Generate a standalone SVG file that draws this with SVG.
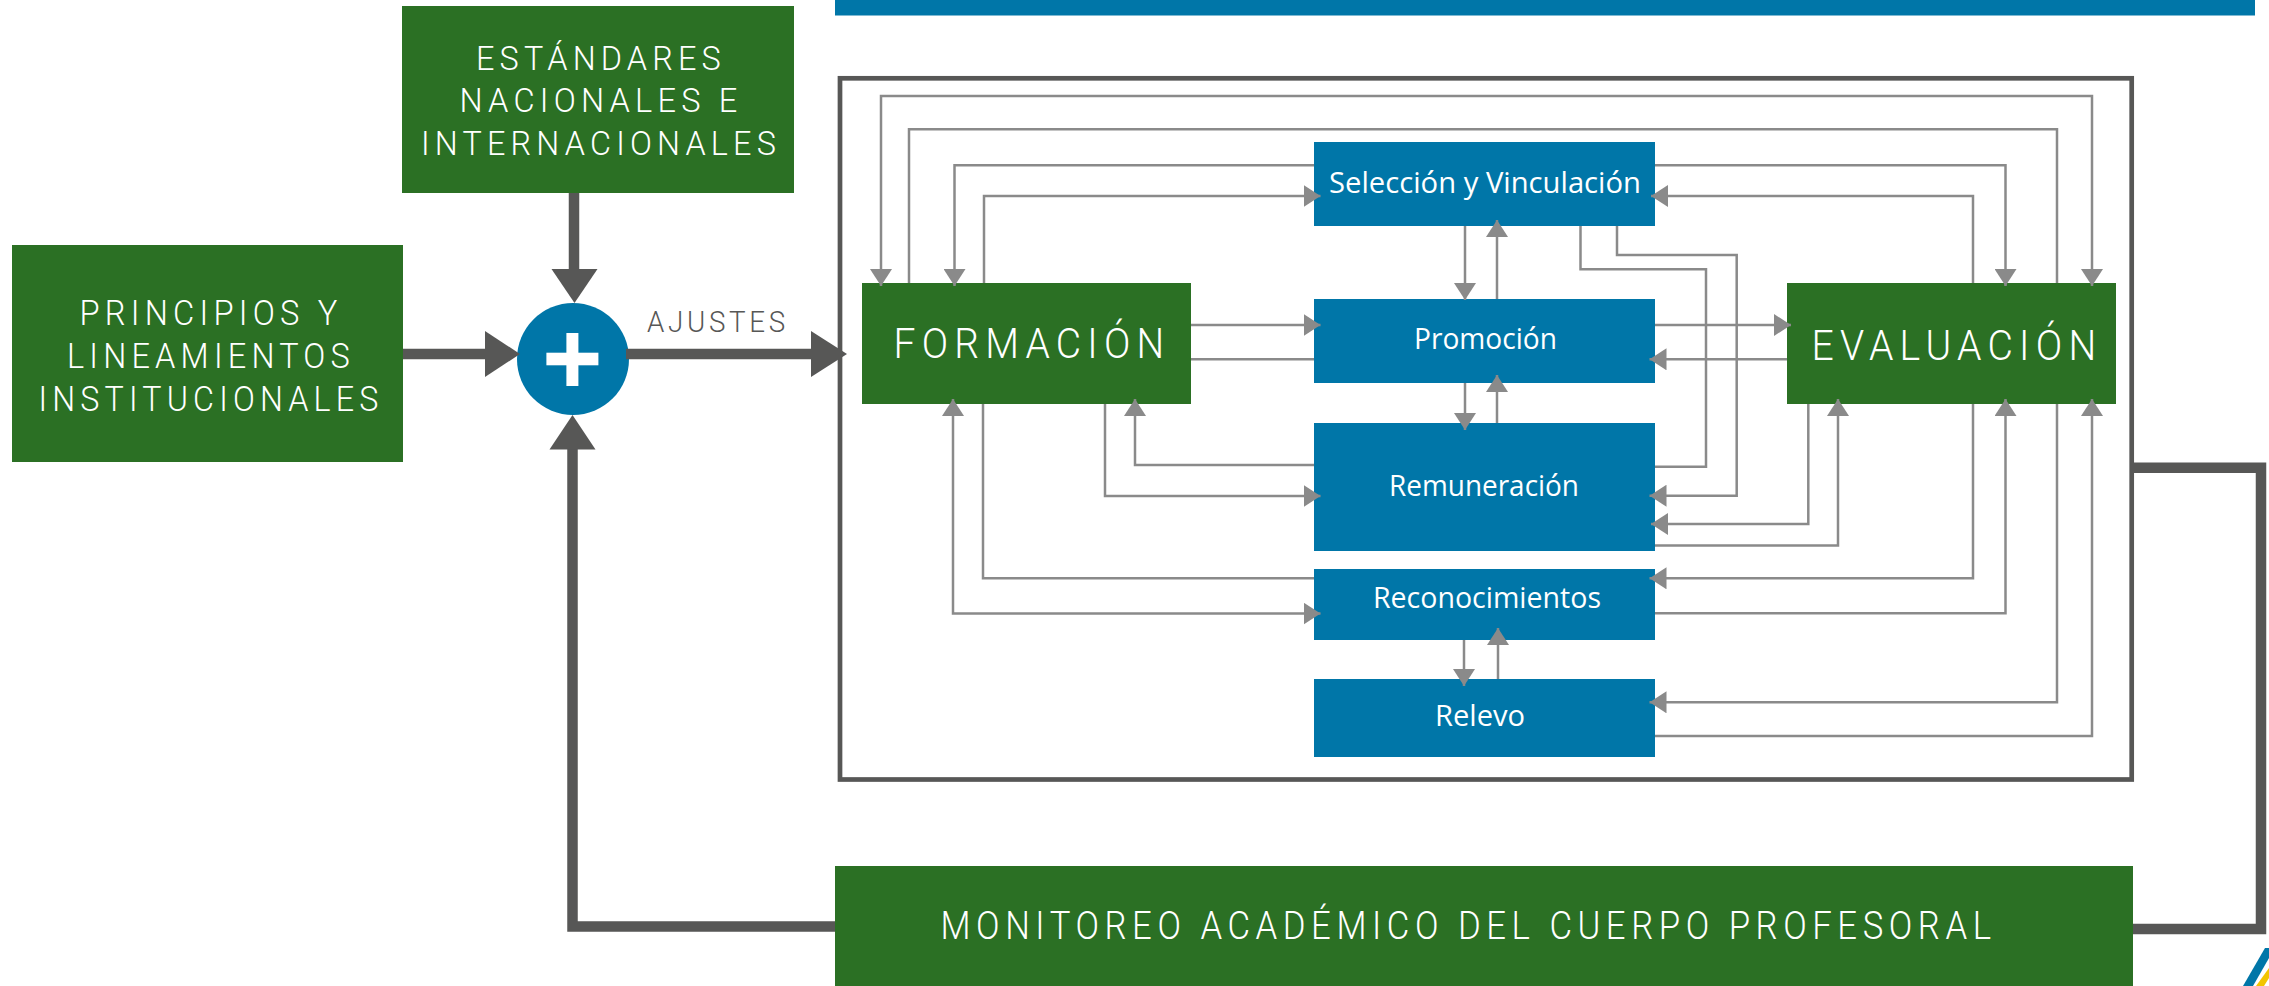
<svg xmlns="http://www.w3.org/2000/svg" width="2269" height="986" viewBox="0 0 2269 986">
<style>
.g{fill:#2b7024}
.b{fill:#0076a8}
.tg{fill:#fff;font-family:Roboto,"Liberation Sans",sans-serif;font-weight:300;text-anchor:middle;letter-spacing:0.16em}
.tb{fill:#fff;font-family:"Open Sans","Noto Sans",sans-serif;font-size:30px;text-anchor:middle}
.c{fill:none;stroke:#8a8a8a;stroke-width:2.5}
.a{marker-end:url(#ah)}
.a2{marker-start:url(#ah);marker-end:url(#ah)}
.thick{fill:none;stroke:#575756;stroke-width:10.5}
.head{fill:#575756}
</style>
<defs>
<marker id="ah" markerUnits="userSpaceOnUse" markerWidth="17" markerHeight="22" viewBox="0 0 17 22" refX="17" refY="11" orient="auto-start-reverse">
<path d="M0,0 L17,11 L0,22 Z" fill="#8a8a8a"/>
</marker>
</defs>
<rect width="2269" height="986" fill="#fff"/>
<rect x="835" y="0" width="1420" height="15.5" class="b"/>
<rect x="840" y="78.3" width="1291.7" height="701.2" fill="none" stroke="#575756" stroke-width="4.7"/>

<g id="estandares">
<rect x="402" y="6" width="392" height="187" class="g"/>
<text class="tg" font-size="34" x="601" y="70" textLength="250" lengthAdjust="spacingAndGlyphs">ESTÁNDARES</text>
<text class="tg" font-size="34" x="601" y="112" textLength="283" lengthAdjust="spacingAndGlyphs">NACIONALES E</text>
<text class="tg" font-size="34" x="601" y="155" textLength="360" lengthAdjust="spacingAndGlyphs">INTERNACIONALES</text>
</g>
<g id="principios">
<rect x="12" y="245" width="391" height="217" class="g"/>
<text class="tg" font-size="35" x="211" y="325" textLength="263" lengthAdjust="spacingAndGlyphs">PRINCIPIOS Y</text>
<text class="tg" font-size="35" x="211" y="368" textLength="288" lengthAdjust="spacingAndGlyphs">LINEAMIENTOS</text>
<text class="tg" font-size="35" x="211" y="411" textLength="345" lengthAdjust="spacingAndGlyphs">INSTITUCIONALES</text>
</g>
<g id="suma">
<circle cx="573" cy="359" r="56" class="b"/>
<rect x="546.4" y="352.7" width="52" height="12.6" fill="#fff"/>
<rect x="566.4" y="333" width="12" height="53" fill="#fff"/>
</g>
<g id="ajustes">
<text x="718" y="332" font-family="Roboto,'Liberation Sans',sans-serif" font-weight="300" font-size="30" fill="#575756" text-anchor="middle" letter-spacing="4" textLength="142" lengthAdjust="spacingAndGlyphs">AJUSTES</text>
</g>
<g id="formacion">
<rect x="862" y="283" width="329" height="121" class="g"/>
<text class="tg" font-size="43" x="1032" y="358" textLength="277" lengthAdjust="spacingAndGlyphs">FORMACIÓN</text>
</g>
<g id="evaluacion">
<rect x="1787" y="283" width="329" height="121" class="g"/>
<text class="tg" font-size="43" x="1957" y="360" textLength="291" lengthAdjust="spacingAndGlyphs">EVALUACIÓN</text>
</g>
<g id="seleccion">
<rect x="1314" y="142" width="341" height="84" class="b"/>
<text class="tb" x="1485" y="193" textLength="312" lengthAdjust="spacingAndGlyphs">Selección y Vinculación</text>
</g>
<g id="promocion">
<rect x="1314" y="299" width="341" height="84" class="b"/>
<text class="tb" x="1485.5" y="349" textLength="143" lengthAdjust="spacingAndGlyphs">Promoción</text>
</g>
<g id="remuneracion">
<rect x="1314" y="423" width="341" height="128" class="b"/>
<text class="tb" x="1484" y="496" textLength="190" lengthAdjust="spacingAndGlyphs">Remuneración</text>
</g>
<g id="reconocimientos">
<rect x="1314" y="569" width="341" height="71" class="b"/>
<text class="tb" x="1487" y="608" textLength="228" lengthAdjust="spacingAndGlyphs">Reconocimientos</text>
</g>
<g id="relevo">
<rect x="1314" y="679" width="341" height="78" class="b"/>
<text class="tb" x="1480" y="726" textLength="90" lengthAdjust="spacingAndGlyphs">Relevo</text>
</g>
<g id="monitoreo">
<rect x="835" y="866" width="1298" height="120" class="g"/>
<text class="tg" font-size="38" x="1468.5" y="939" textLength="1056" lengthAdjust="spacingAndGlyphs">MONITOREO ACADÉMICO DEL CUERPO PROFESORAL</text>
</g>

<g id="connectors">
<path class="thick" d="M574,193 V270"/>
<polygon class="head" points="551.5,269 597.5,269 574.5,303"/>
<path class="thick" d="M403,354 H486"/>
<polygon class="head" points="485,331 485,377 520,354"/>
<path class="thick" d="M626,354 H812"/>
<polygon class="head" points="811,331 811,377 847,354"/>
<path class="thick" d="M835,926.5 H572.5 V449"/>
<polygon class="head" points="549.5,449.5 595.5,449.5 572.5,415"/>
<path class="thick" d="M2133,467.7 H2261 V929 H2133" stroke-linejoin="miter"/>

<path class="c a2" d="M881,286 V96 H2092 V286"/>
<path class="c" d="M909,283 V129.3 H2057 V283"/>
<path class="c a" d="M1314,165.3 H954.5 V286"/>
<path class="c a" d="M1655,165.3 H2005.5 V286"/>
<path class="c a" d="M984,283 V196 H1320.5"/>
<path class="c a" d="M1973,283 V196 H1651"/>
<path class="c a" d="M1191,325 H1320.5"/>
<path class="c a" d="M1655,325 H1791"/>
<path class="c" d="M1314,359.3 H1191"/>
<path class="c a" d="M1787,359.3 H1649.5"/>
<path class="c a" d="M1314,465 H1135 V399"/>
<path class="c a" d="M1105,404 V496 H1320.5"/>
<path class="c" d="M983,404 V578.3 H1314"/>
<path class="c a2" d="M953,399 V613.5 H1320.5"/>
<path class="c" d="M1655,466.7 H1706 V269.3 H1580.5 V226"/>
<path class="c a" d="M1617,226 V255 H1736.7 V495.7 H1649.5"/>
<path class="c a" d="M1808.3,404 V524 H1651"/>
<path class="c a" d="M1655,545.5 H1838 V399"/>
<path class="c a" d="M1973,404 V578.3 H1649.5"/>
<path class="c a" d="M1655,613.3 H2005.5 V399"/>
<path class="c a" d="M2057,404 V702.3 H1649.5"/>
<path class="c a" d="M1655,736 H2092 V399"/>
<path class="c a" d="M1465,226 V300"/>
<path class="c a" d="M1497,299 V220"/>
<path class="c a" d="M1465,383 V430"/>
<path class="c a" d="M1497,423 V375"/>
<path class="c a" d="M1464,640 V686"/>
<path class="c a" d="M1498,679 V628"/>
</g>
<polygon points="2265,948 2269,948 2269,958 2253,986 2243,986" fill="#0076a8"/>
<polygon points="2269,968 2269,978 2264,986 2256,986" fill="#f2c500"/>
</svg>
